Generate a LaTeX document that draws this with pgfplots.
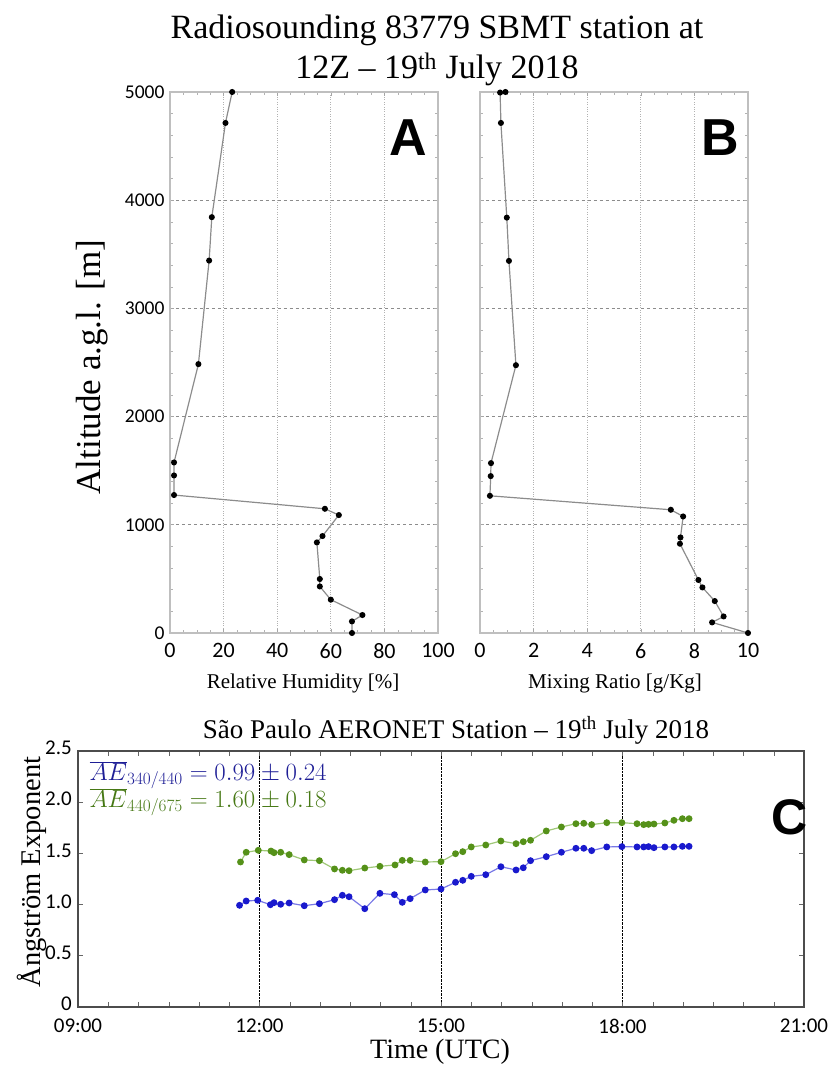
\documentclass[border=0pt]{standalone}
\usepackage{pgfplots}
\pgfplotsset{compat=1.18}
\usepackage{fontspec}
\setmainfont{Liberation Serif}
\newfontfamily\carlito{Carlito}
\newfontfamily\arial{Liberation Sans}
\definecolor{blueM}{RGB}{25,25,205}
\definecolor{blueL}{RGB}{120,120,230}
\definecolor{greenM}{RGB}{85,145,25}
\definecolor{greenL}{RGB}{160,200,120}
\definecolor{blueT}{RGB}{30,30,150}
\definecolor{greenT}{RGB}{70,120,20}
\begin{document}
\begin{tikzpicture}
\useasboundingbox (0,0) rectangle (832bp,1065bp);
\pgfplotsset{
  profile/.style={
    scale only axis, width=268bp, height=541bp, anchor=south west,
    ymin=0, ymax=5000, ytick={0,1000,...,5000},
    minor x tick num=3, minor y tick num=4,
    axis line style={draw=black!25, line width=1.5bp},
    major tick style={draw=black!35, line width=0.6bp},
    minor tick style={draw=black!30, line width=0.5bp},
    tick align=inside, major tick length=4bp, minor tick length=3bp,
    xmajorgrids, ymajorgrids,
    x grid style={dotted, black!30, line width=0.8bp},
    y grid style={dashed, black!45, line width=0.6bp},
    /pgf/number format/assume math mode=true, scaled ticks=false,
    /pgf/number format/1000 sep={},
    xticklabel style={font=\carlito\fontsize{22bp}{22bp}\selectfont, yshift=-7bp},
    yticklabel style={font=\carlito\fontsize{19.5bp}{19.5bp}\selectfont, xshift=-2bp},
    clip mode=individual,
  },
  prof/.style={black!45, line width=1.2bp, mark=*, mark size=2.4bp, mark options={black, fill=black, draw=black}},
}
% Panel A
\begin{axis}[profile, at={(170bp,432bp)}, xmin=0, xmax=100, xtick={0,20,...,100}]
\addplot[prof] coordinates {
(67.9,0) (67.9,107) (71.8,166) (60.0,308) (55.9,430) (55.9,499) (54.8,837) (56.9,896) (63.0,1090) (57.8,1148) (1.5,1275) (1.5,1456) (1.5,1576) (10.6,2485) (14.6,3442) (15.6,3843) (20.7,4714) (23.2,5000)
};
\end{axis}
% Panel B
\begin{axis}[profile, at={(480bp,432bp)}, xmin=0, xmax=10, xtick={0,2,...,10}, yticklabels={}]
\addplot[prof] coordinates {
(10.0,0) (8.66,98) (9.09,153) (8.76,295) (8.30,421) (8.15,490) (7.46,825) (7.48,883) (7.58,1077) (7.12,1139) (0.37,1268) (0.40,1450) (0.41,1570) (1.34,2475) (1.08,3439) (1.00,3839) (0.78,4714) (0.75,4995) (0.95,5000)
};
\end{axis}
% Panel C
\begin{axis}[
  scale only axis, width=726bp, height=256bp, at={(78bp,58bp)}, anchor=south west,
  xmin=9, xmax=21, ymin=0, ymax=2.5,
  xtick={9,12,15,18,21}, xticklabels={09:00,12:00,15:00,18:00,21:00},
  minor x tick num=5,
  ytick={0,0.5,1,1.5,2,2.5}, yticklabels={0,0.5,1.0,1.5,2.0,2.5},
  xmajorgrids, x grid style={densely dotted, black, line width=0.8bp},
  axis line style={draw=black!70, line width=1.5bp},
  major tick style={draw=black!60, line width=0.6bp},
  minor tick style={draw=black!60, line width=0.5bp},
  tick align=inside, major tick length=5bp, minor tick length=5bp,
  /pgf/number format/assume math mode=true,
  ticklabel style={font=\carlito\fontsize{21bp}{21bp}\selectfont, inner sep=1bp},
  xticklabel style={yshift=-11bp},
  yticklabel style={yshift=3bp, xshift=-5bp},
]
\addplot[greenL, line width=1.2bp, mark=*, mark size=2.8bp, mark options={greenM, fill=greenM, draw=greenM}] coordinates {
(11.686,1.416)(11.78,1.511)(11.98,1.530)(12.19,1.523)(12.24,1.507)(12.35,1.511)(12.49,1.488)(12.74,1.436)(12.99,1.429)(13.24,1.348)(13.37,1.335)(13.48,1.331)(13.74,1.357)(13.99,1.374)(14.24,1.387)(14.36,1.432)(14.49,1.432)(14.74,1.416)(15.00,1.419)(15.24,1.497)(15.36,1.517)(15.50,1.563)(15.74,1.582)(15.99,1.621)(16.24,1.595)(16.36,1.614)(16.48,1.628)(16.74,1.719)(16.99,1.758)(17.23,1.790)(17.36,1.794)(17.49,1.781)(17.74,1.800)(17.99,1.800)(18.24,1.790)(18.35,1.781)(18.43,1.784)(18.52,1.787)(18.70,1.797)(18.85,1.823)(18.99,1.839)(19.10,1.839)
};
\addplot[blueL, line width=1.2bp, mark=*, mark size=2.8bp, mark options={blueM, fill=blueM, draw=blueM}] coordinates {
(11.67,0.993)(11.78,1.035)(11.97,1.042)(12.18,0.999)(12.24,1.019)(12.35,1.003)(12.49,1.016)(12.74,0.989)(12.99,1.009)(13.24,1.048)(13.37,1.091)(13.48,1.077)(13.74,0.960)(13.99,1.110)(14.23,1.097)(14.36,1.022)(14.49,1.058)(14.74,1.143)(15.00,1.152)(15.24,1.218)(15.36,1.237)(15.50,1.276)(15.74,1.292)(15.99,1.370)(16.24,1.338)(16.36,1.360)(16.48,1.429)(16.74,1.468)(16.99,1.511)(17.23,1.550)(17.36,1.550)(17.49,1.527)(17.74,1.563)(17.99,1.566)(18.24,1.563)(18.35,1.563)(18.43,1.566)(18.52,1.556)(18.70,1.563)(18.85,1.563)(18.99,1.569)(19.10,1.569)
};
\end{axis}
% Texts
\node[font=\fontsize{34bp}{40bp}\selectfont, align=center] at (437bp,1015bp) {Radiosounding 83779 SBMT station at\\12Z – 19\textsuperscript{th} July 2018};
\node[font=\fontsize{35bp}{35bp}\selectfont, rotate=90] at (92bp,698bp) {Altitude a.g.l. [m]};
\node[font=\fontsize{21bp}{21bp}\selectfont] at (303bp,382bp) {Relative Humidity [\%]};
\node[font=\fontsize{21bp}{21bp}\selectfont] at (615bp,382bp) {Mixing Ratio [g/Kg]};
\node[font=\arial\bfseries\fontsize{52bp}{52bp}\selectfont] at (408bp,927bp) {A};
\node[font=\arial\bfseries\fontsize{52bp}{52bp}\selectfont] at (720bp,927bp) {B};
\node[font=\arial\bfseries\fontsize{50bp}{50bp}\selectfont] at (790bp,248bp) {C};
\node[font=\fontsize{27bp}{27bp}\selectfont] at (456bp,335bp) {São Paulo AERONET Station – 19\textsuperscript{th} July 2018};
\node[font=\fontsize{28bp}{28bp}\selectfont, inner sep=0pt] at (440bp,13bp) {Time (UTC)};
\node[font=\fontsize{28.5bp}{28.5bp}\selectfont, rotate=90] at (32bp,193bp) {Ångström Exponent};
\node[anchor=west, text=blueT, font=\fontsize{24bp}{24bp}\selectfont] at (86bp,290bp) {$\overline{AE}_{340/440} = 0.99 \pm 0.24$};
\node[anchor=west, text=greenT, font=\fontsize{24bp}{24bp}\selectfont] at (86bp,263bp) {$\overline{AE}_{440/675} = 1.60 \pm 0.18$};
\end{tikzpicture}
\end{document}
